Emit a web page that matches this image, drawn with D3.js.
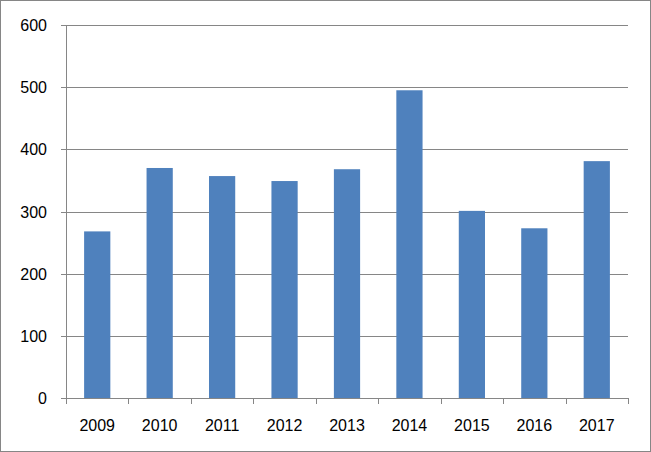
<!DOCTYPE html>
<html><head><meta charset="utf-8">
<script src="https://cdn.jsdelivr.net/npm/d3@7"></script>
<style>body{margin:0;background:#fff}</style></head>
<body><svg id="c" width="651" height="452"></svg>
<script>
const categories=["2009","2010","2011","2012","2013","2014","2015","2016","2017"];
const values=[268,370,357,349,368,495,301,273,381];
const yTicks=[0,100,200,300,400,500,600];
const svg=d3.select("#c");
svg.append("rect").attr("x",0.5).attr("y",0.5).attr("width",650).attr("height",451).attr("fill","#fff").attr("stroke","#868686");
const L=66,R=628,T=25,B=398;
const x=d3.scaleBand().domain(categories).range([L,R]);
const y=d3.scaleLinear().domain([0,600]).range([B,T]);
const g=svg.append("g");
g.selectAll(".grid").data(yTicks).join("line").attr("x1",L-5).attr("x2",R).attr("y1",d=>Math.round(y(d))+0.5).attr("y2",d=>Math.round(y(d))+0.5).attr("stroke","#868686");
g.append("line").attr("x1",L+0.5).attr("x2",L+0.5).attr("y1",T).attr("y2",B).attr("stroke","#868686");
const bw=x.step()*0.42;
g.selectAll(".bar").data(values).join("rect").attr("x",(d,i)=>x(categories[i])+(x.step()-bw)/2).attr("width",bw).attr("y",d=>y(d)).attr("height",d=>B-y(d)).attr("fill","#4f81bd");
const xt=categories.map(c=>x(c)).concat([R]);
g.selectAll(".xt").data(xt).join("line").attr("x1",d=>Math.round(d)+0.5).attr("x2",d=>Math.round(d)+0.5).attr("y1",B).attr("y2",B+6).attr("stroke","#868686");
g.selectAll(".xl").data(categories).join("text").attr("x",d=>x(d)+x.step()/2).attr("y",B+33).attr("text-anchor","middle").attr("font-family","Liberation Sans, Arial").attr("font-size",16).text(d=>d);
g.selectAll(".yl").data(yTicks).join("text").attr("x",L-19).attr("y",d=>y(d)+6).attr("text-anchor","end").attr("font-family","Liberation Sans, Arial").attr("font-size",16).text(d=>d);
</script></body></html>
